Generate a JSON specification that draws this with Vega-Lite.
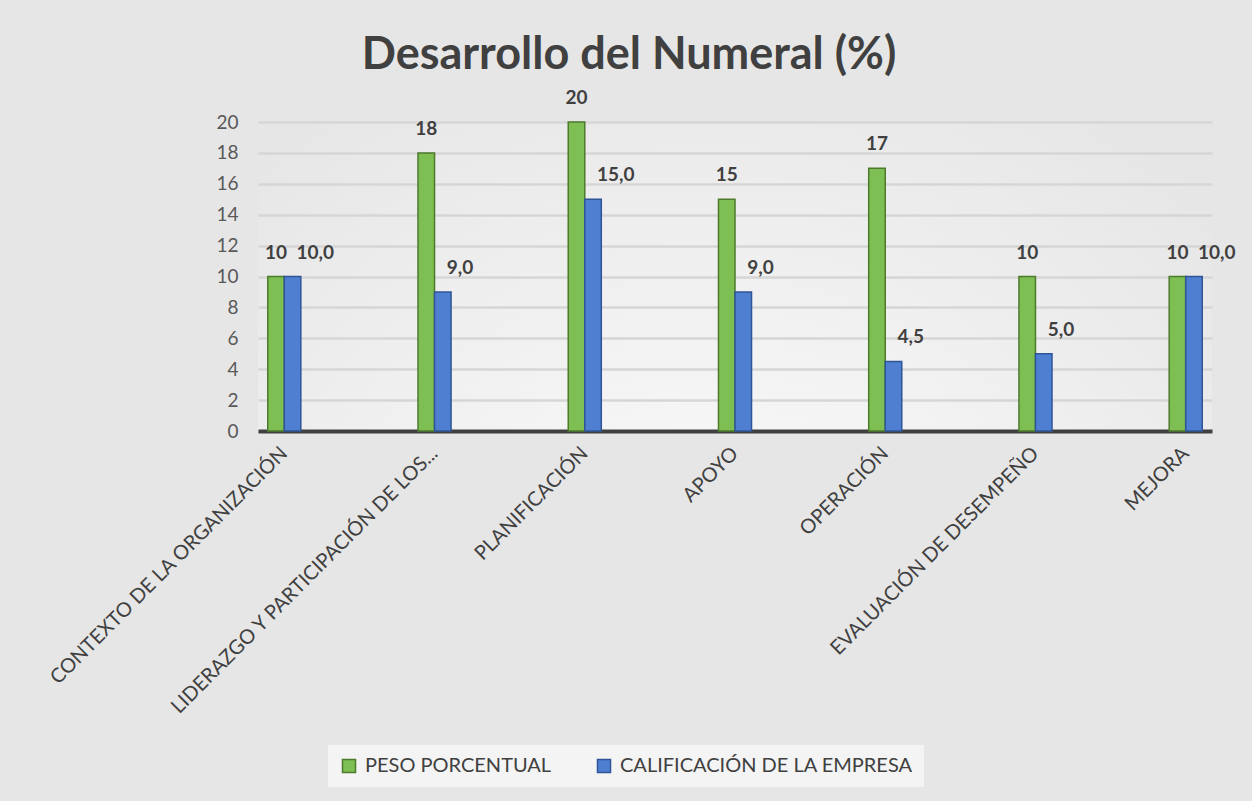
{
  "$schema": "https://vega.github.io/schema/vega-lite/v6.json",
  "width": 954,
  "height": 309,
  "autosize": {"type": "none"},
  "padding": {"left": 258, "top": 122, "right": 40, "bottom": 370},
  "background": "#e6e6e6",
  "title": {
    "text": "Desarrollo del Numeral (%)",
    "font": "Lato",
    "fontSize": 45,
    "fontWeight": "bold",
    "color": "#404040",
    "anchor": "middle",
    "dx": -106,
    "offset": 11
  },
  "data": {
    "values": [
      {"numeral": "CONTEXTO DE LA ORGANIZACIÓN", "serie": "PESO PORCENTUAL", "valor": 10},
      {"numeral": "CONTEXTO DE LA ORGANIZACIÓN", "serie": "CALIFICACIÓN DE LA EMPRESA", "valor": 10.0},
      {"numeral": "LIDERAZGO Y PARTICIPACIÓN DE LOS...", "serie": "PESO PORCENTUAL", "valor": 18},
      {"numeral": "LIDERAZGO Y PARTICIPACIÓN DE LOS...", "serie": "CALIFICACIÓN DE LA EMPRESA", "valor": 9.0},
      {"numeral": "PLANIFICACIÓN", "serie": "PESO PORCENTUAL", "valor": 20},
      {"numeral": "PLANIFICACIÓN", "serie": "CALIFICACIÓN DE LA EMPRESA", "valor": 15.0},
      {"numeral": "APOYO", "serie": "PESO PORCENTUAL", "valor": 15},
      {"numeral": "APOYO", "serie": "CALIFICACIÓN DE LA EMPRESA", "valor": 9.0},
      {"numeral": "OPERACIÓN", "serie": "PESO PORCENTUAL", "valor": 17},
      {"numeral": "OPERACIÓN", "serie": "CALIFICACIÓN DE LA EMPRESA", "valor": 4.5},
      {"numeral": "EVALUACIÓN DE DESEMPEÑO", "serie": "PESO PORCENTUAL", "valor": 10},
      {"numeral": "EVALUACIÓN DE DESEMPEÑO", "serie": "CALIFICACIÓN DE LA EMPRESA", "valor": 5.0},
      {"numeral": "MEJORA", "serie": "PESO PORCENTUAL", "valor": 10},
      {"numeral": "MEJORA", "serie": "CALIFICACIÓN DE LA EMPRESA", "valor": 10.0}
    ]
  },
  "encoding": {
    "x": {
      "field": "numeral",
      "type": "nominal",
      "sort": null,
      "scale": {"paddingInner": 0.78, "paddingOuter": 0.065},
      "axis": {
        "title": null,
        "labelAngle": -45,
        "labelFont": "Lato",
        "labelFontSize": 20,
        "labelColor": "#404040",
        "labelPadding": 12,
        "labelOffset": -7,
        "labelLimit": 600,
        "ticks": false,
        "domainColor": "#404040",
        "domainWidth": 4,
        "grid": false
      }
    },
    "xOffset": {
      "field": "serie",
      "type": "nominal",
      "sort": ["PESO PORCENTUAL", "CALIFICACIÓN DE LA EMPRESA"]
    },
    "y": {
      "field": "valor",
      "type": "quantitative",
      "scale": {"domain": [0, 20]},
      "axis": {
        "title": null,
        "values": [0, 2, 4, 6, 8, 10, 12, 14, 16, 18, 20],
        "labelFont": "Lato",
        "labelFontSize": 19,
        "labelColor": "#595959",
        "labelPadding": 20,
        "domain": false,
        "ticks": false,
        "gridColor": "#d6d6d6",
        "gridWidth": 2.5
      }
    }
  },
  "layer": [
    {
      "mark": {"type": "bar", "strokeWidth": 1.5},
      "encoding": {
        "color": {
          "field": "serie",
          "type": "nominal",
          "sort": ["PESO PORCENTUAL", "CALIFICACIÓN DE LA EMPRESA"],
          "scale": {"domain": ["PESO PORCENTUAL", "CALIFICACIÓN DE LA EMPRESA"], "range": ["#7dbf52", "#4f7fd0"]},
          "legend": {
            "title": null,
            "orient": "none",
            "legendX": 70,
            "legendY": 623,
            "direction": "horizontal",
            "fillColor": "#f4f4f4",
            "padding": 11,
            "labelFont": "Lato",
            "labelFontSize": 20,
            "labelColor": "#404040",
            "labelOffset": 6,
            "labelLimit": 500,
            "symbolType": "square",
            "symbolSize": 170,
            "symbolStrokeWidth": 1.5,
            "symbolOpacity": 1,
            "columnPadding": 42
          }
        },
        "stroke": {
          "field": "serie",
          "type": "nominal",
          "sort": ["PESO PORCENTUAL", "CALIFICACIÓN DE LA EMPRESA"],
          "scale": {"domain": ["PESO PORCENTUAL", "CALIFICACIÓN DE LA EMPRESA"], "range": ["#4e7a2c", "#2f5597"]},
          "legend": {
            "title": null,
            "orient": "none",
            "legendX": 70,
            "legendY": 623,
            "direction": "horizontal",
            "fillColor": "#f4f4f4",
            "padding": 11,
            "labelFont": "Lato",
            "labelFontSize": 20,
            "labelColor": "#404040",
            "labelOffset": 6,
            "labelLimit": 500,
            "symbolType": "square",
            "symbolSize": 170,
            "symbolStrokeWidth": 1.5,
            "columnPadding": 42
          }
        }
      }
    },
    {
      "transform": [{"filter": "datum.serie === 'PESO PORCENTUAL'"}],
      "mark": {"type": "text", "font": "Lato", "fontSize": 19, "fontWeight": "bold", "color": "#404040", "baseline": "bottom", "dy": -14},
      "encoding": {"text": {"field": "valor", "type": "quantitative", "format": ".0f"}}
    },
    {
      "transform": [{"filter": "datum.serie === 'CALIFICACIÓN DE LA EMPRESA'"}],
      "mark": {"type": "text", "font": "Lato", "fontSize": 19, "fontWeight": "bold", "color": "#404040", "baseline": "bottom", "align": "left", "dx": 4, "dy": -14},
      "encoding": {"text": {"field": "valor", "type": "quantitative", "format": ".1f"}}
    }
  ],
  "config": {
    "locale": {"number": {"decimal": ",", "thousands": ".", "grouping": [3], "currency": ["", " €"]}},
    "view": {
      "stroke": null,
      "fill": {
        "gradient": "radial",
        "x1": 0.47, "y1": 0.95, "r1": 0,
        "x2": 0.47, "y2": 0.95, "r2": 0.75,
        "stops": [{"offset": 0, "color": "#ffffff"}, {"offset": 1, "color": "#e6e6e6"}]
      }
    }
  }
}
